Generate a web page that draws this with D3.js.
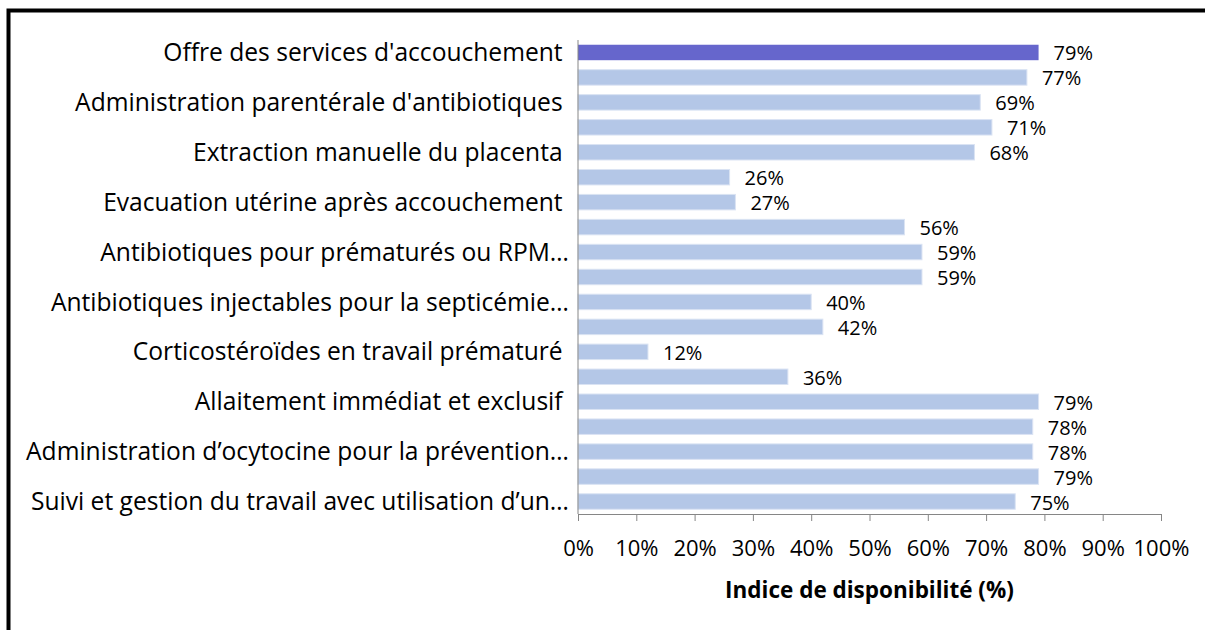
<!DOCTYPE html>
<html>
<head>
<meta charset="utf-8">
<script src="https://cdn.jsdelivr.net/npm/d3@7"></script>
<style>
  body { margin: 0; background: #fff; overflow: hidden; }
  svg { display: block; font-family: "Open Sans", sans-serif; }
  text { white-space: pre; }
</style>
</head>
<body>
<svg width="1205" height="630"></svg>
<script>
// only every other category name is printed on the axis in the source
const categories = [
    "Offre des services d'accouchement ", null,
    "Administration parentérale d'antibiotiques ", null,
    "Extraction manuelle du placenta ", null,
    "Evacuation utérine après accouchement ", null,
    "Antibiotiques pour prématurés ou RPM…", null,
    "Antibiotiques injectables pour la septicémie…", null,
    "Corticostéroïdes en travail prématuré ", null,
    "Allaitement immédiat et exclusif ", null,
    "Administration d’ocytocine pour la prévention…", null,
    "Suivi et gestion du travail avec utilisation d’un…"
];
const values = [0.79, 0.77, 0.69, 0.71, 0.68, 0.26, 0.27, 0.56, 0.59, 0.59,
                0.40, 0.42, 0.12, 0.36, 0.79, 0.78, 0.78, 0.79, 0.75];
const xTicks = [0, 0.1, 0.2, 0.3, 0.4, 0.5, 0.6, 0.7, 0.8, 0.9, 1];
const xTitle = 'Indice de disponibilité (%)';

const svg = d3.select('svg'),
    width = +svg.attr('width'),
    height = +svg.attr('height');

const margin = {top: 40, right: 44, bottom: 116, left: 578};
const pct = d3.format('.0%');

// frame (cut off on the right and bottom in the original)
svg.append('rect')
    .attr('x', 8.5).attr('y', 10.5)
    .attr('width', width + 100).attr('height', height + 100)
    .attr('fill', 'none')
    .attr('stroke', '#000')
    .attr('stroke-width', 4);

const x = d3.scaleLinear().domain([0, 1]).range([margin.left, width - margin.right]);
const y = d3.scaleBand()
    .domain(d3.range(values.length))
    .range([margin.top, height - margin.bottom])
    .paddingInner(0.38)
    .paddingOuter(0.19);

const bars = svg.append('g');
bars.selectAll('rect').data(values).enter().append('rect')
    .attr('x', x(0))
    .attr('y', (d, i) => y(i))
    .attr('width', d => x(d) - x(0))
    .attr('height', y.bandwidth())
    .attr('fill', (d, i) => i == 0 ? '#6666cc' : '#b4c7e7')
    .attr('stroke', (d, i) => i == 0 ? 'none' : '#dae3f3')
    .attr('stroke-width', 1);

bars.selectAll('text').data(values).enter().append('text')
    .attr('x', d => x(d) + 15)
    .attr('y', (d, i) => y(i) + y.bandwidth() / 2 + 1)
    .attr('dy', '0.35em')
    .attr('font-size', 20)
    .attr('fill', '#000')
    .text(d => pct(d));

// category axis
const yAxis = svg.append('g').attr('transform', `translate(${x(0)},0)`);
yAxis.append('line')
    .attr('y1', margin.top).attr('y2', height - margin.bottom)
    .attr('stroke', '#868686');
yAxis.selectAll('text').data(categories).enter()
    .filter(d => d != null)
    .append('text')
    .attr('x', -9)
    .attr('y', d => y(categories.indexOf(d)) + y.bandwidth() / 2)
    .attr('dy', '0.35em')
    .attr('text-anchor', 'end')
    .attr('font-size', 24.6)
    .attr('fill', '#000')
    .text(d => d);

// value axis
const xAxis = svg.append('g')
    .attr('transform', `translate(0,${height - margin.bottom})`)
    .call(d3.axisBottom(x).tickValues(xTicks).tickFormat(pct).tickSize(7).tickPadding(19));
xAxis.select('.domain').attr('stroke', '#868686');
xAxis.selectAll('.tick line').attr('stroke', '#868686');
xAxis.selectAll('.tick text')
    .attr('font-size', 22)
    .attr('font-family', '"Open Sans", sans-serif')
    .attr('fill', '#000');

svg.append('text')
    .attr('x', (x(0) + x(1)) / 2)
    .attr('y', height - margin.bottom + 84)
    .attr('text-anchor', 'middle')
    .attr('font-size', 22.5)
    .attr('font-weight', 'bold')
    .text(xTitle);
</script>
</body>
</html>
